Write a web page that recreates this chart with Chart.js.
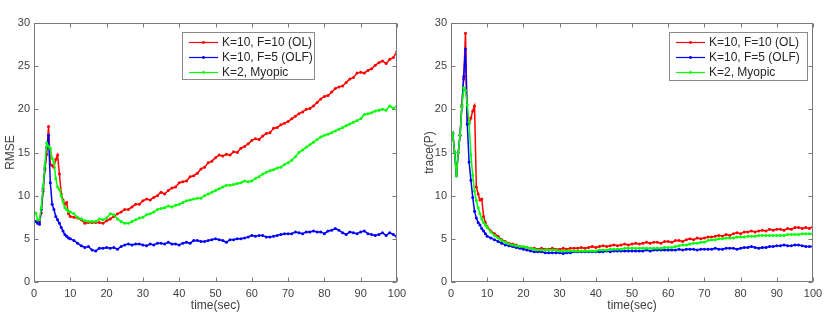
<!DOCTYPE html>
<html><head><meta charset="utf-8">
<script src="https://cdn.jsdelivr.net/npm/chart.js@4.4.0/dist/chart.umd.min.js"></script>
<style>
html,body{margin:0;padding:0;background:#fff;}
#wrap{position:relative;width:831px;height:317px;background:#fff;}
#c1{position:absolute;left:0;top:0;}
#c2{position:absolute;left:420px;top:0;}
</style></head><body>
<div id="wrap"><canvas id="c1" width="420" height="317"></canvas><canvas id="c2" width="411" height="317"></canvas></div>
<script>
// ---------- DATA ----------
const seriesLabels = ['K=10, F=10 (OL)', 'K=10, F=5 (OLF)', 'K=2, Myopic'];
const xTickValues = [0,10,20,30,40,50,60,70,80,90,100];
const yTickValues = [0,5,10,15,20,25,30];
const xTitle = 'time(sec)';
const leftYTitle = 'RMSE';
const rightYTitle = 'trace(P)';

const times = [0,0.5,1,1.5,2,2.5,3,3.5,4,4.5,5,5.5,6,6.5,7,7.5,8,8.5,9,9.5,10,
 11,12,13,14,15,16,17,18,19,20,21,22,23,24,25,26,27,28,29,30,
 31,32,33,34,35,36,37,38,39,40,41,42,43,44,45,46,47,48,49,50,
 51,52,53,54,55,56,57,58,59,60,61,62,63,64,65,66,67,68,69,70,
 71,72,73,74,75,76,77,78,79,80,81,82,83,84,85,86,87,88,89,90,
 91,92,93,94,95,96,97,98,99,100];

const rmseOL = [7.0,7.0,7.0,6.9,8.0,10.5,13.0,14.8,18.0,13.6,13.5,13.3,14.2,14.7,12.5,10.2,9.5,9.0,9.2,7.9,7.6,
 7.5,7.4,7.2,6.8,6.9,6.9,6.9,6.9,6.8,7.1,
 7.3,7.6,7.9,8.1,8.4,8.4,8.7,9.0,9.0,9.4,
 9.6,9.5,9.8,10.0,10.4,10.2,10.6,10.9,11.0,11.5,
 11.6,11.7,12.2,12.3,12.6,13.1,13.3,13.8,14.0,14.4,
 14.7,14.6,14.8,14.7,15.1,15.0,15.5,15.7,16.0,16.4,
 16.6,16.5,16.9,17.2,17.3,17.8,17.9,18.2,18.4,18.6,
 18.9,19.2,19.5,19.7,20.0,20.1,20.4,20.8,21.2,21.5,
 21.6,22.0,22.4,22.6,22.7,23.1,23.5,23.7,24.2,24.3,
 24.2,24.5,24.7,25.1,25.4,25.6,25.3,25.8,26.0,26.7];

const rmseOLF = [7.0,7.0,6.8,6.7,8.4,10.8,13.2,15.6,17.0,11.5,9.0,8.4,7.6,7.2,6.8,6.3,5.9,5.5,5.3,5.1,5.0,
 4.8,4.5,4.2,4.0,4.1,3.7,3.6,3.9,3.9,4.0,
 3.9,4.0,3.8,4.1,4.3,4.4,4.3,4.4,4.4,4.3,
 4.2,4.4,4.3,4.5,4.5,4.4,4.6,4.4,4.4,4.3,
 4.5,4.6,4.5,4.8,4.8,4.7,4.7,4.8,4.9,5.0,
 4.9,4.8,4.6,4.9,4.9,5.0,5.0,5.1,5.2,5.4,
 5.3,5.4,5.4,5.2,5.2,5.3,5.4,5.5,5.6,5.6,
 5.6,5.8,5.7,5.6,5.8,5.8,5.9,5.8,5.8,5.6,
 5.9,6.0,6.2,6.0,5.7,5.5,5.8,5.7,5.6,5.8,
 5.9,5.6,5.5,5.4,5.5,5.7,5.4,5.7,5.5,5.2];

const rmseMyopic = [7.9,8.0,7.2,7.2,8.6,11.0,13.5,16.1,15.7,15.5,14.3,13.8,12.0,11.0,10.7,10.0,9.3,8.6,8.4,8.2,8.1,
 7.9,7.5,7.3,7.1,7.0,7.0,7.0,7.3,7.2,7.4,
 7.9,7.8,7.3,7.0,6.8,6.8,7.0,7.2,7.4,7.5,
 7.8,7.9,8.1,8.4,8.5,8.6,8.8,8.7,8.9,9.0,
 9.2,9.4,9.5,9.6,9.7,9.7,10.0,10.2,10.4,10.6,
 10.8,11.0,11.2,11.2,11.3,11.4,11.5,11.7,11.6,11.7,
 12.0,12.2,12.5,12.7,12.9,13.0,13.2,13.3,13.6,13.8,
 14.1,14.5,15.0,15.3,15.6,15.9,16.2,16.5,16.8,17.0,
 17.1,17.3,17.5,17.7,17.9,18.1,18.3,18.5,18.7,18.9,
 19.4,19.5,19.6,19.8,19.9,20.0,19.9,20.4,20.1,20.4];

const traceOL = [16.7,17.2,15.0,12.3,15.0,17.0,20.5,23.5,28.8,18.3,18.4,19.0,19.8,20.4,11.0,10.2,9.5,9.6,7.6,6.9,6.4,
 5.9,5.6,5.3,4.9,4.7,4.5,4.4,4.3,4.1,4.0,
 4.0,3.9,3.9,3.8,3.9,3.8,3.8,3.9,3.8,3.8,
 3.9,3.8,3.9,3.9,3.9,4.0,3.9,4.0,4.1,4.0,
 4.1,4.2,4.1,4.2,4.3,4.2,4.3,4.4,4.3,4.4,
 4.5,4.4,4.5,4.6,4.5,4.6,4.6,4.5,4.7,4.7,
 4.6,4.8,4.8,4.7,4.9,5.0,4.9,5.1,5.0,5.1,
 5.2,5.2,5.3,5.4,5.3,5.5,5.4,5.6,5.7,5.6,
 5.8,5.8,5.9,5.8,5.9,6.0,5.9,6.1,6.0,6.1,
 6.1,6.0,6.2,6.1,6.3,6.3,6.2,6.3,6.2,6.4];

const traceOLF = [16.7,17.2,15.0,12.3,15.0,17.0,20.3,23.8,27.0,18.3,13.9,11.8,9.8,8.2,7.4,6.9,6.6,6.2,5.9,5.6,5.3,
 5.1,4.9,4.7,4.5,4.3,4.2,4.1,4.0,3.9,3.8,
 3.7,3.6,3.5,3.5,3.5,3.4,3.4,3.4,3.4,3.4,
 3.3,3.4,3.4,3.5,3.5,3.5,3.5,3.5,3.5,3.5,
 3.5,3.5,3.6,3.5,3.6,3.6,3.6,3.6,3.6,3.6,
 3.6,3.6,3.6,3.7,3.6,3.7,3.7,3.7,3.7,3.7,
 3.7,3.7,3.8,3.7,3.8,3.8,3.8,3.7,3.8,3.8,
 3.8,3.8,3.9,3.8,3.8,3.9,3.9,3.9,3.8,3.9,
 4.0,4.0,4.1,4.0,3.9,4.0,4.0,4.1,4.1,4.2,
 4.2,4.3,4.2,4.2,4.3,4.3,4.2,4.1,4.1,4.1];

const traceMyopic = [16.7,17.2,15.0,12.3,15.0,17.0,20.3,22.5,22.2,20.5,18.5,14.7,12.4,10.5,9.4,8.6,7.9,7.3,6.9,6.6,6.3,
 5.8,5.4,5.1,4.8,4.6,4.4,4.3,4.2,4.1,4.1,
 4.0,3.9,3.8,3.7,3.7,3.7,3.7,3.7,3.7,3.6,
 3.6,3.6,3.6,3.6,3.6,3.6,3.6,3.6,3.6,3.6,
 3.7,3.7,3.7,3.8,3.8,3.8,3.8,3.9,3.9,3.9,
 3.9,3.9,3.9,3.9,3.9,3.9,3.9,3.9,4.0,4.0,
 4.0,4.1,4.2,4.3,4.3,4.4,4.5,4.5,4.6,4.6,
 4.8,4.9,4.9,5.0,5.0,5.1,5.1,5.1,5.2,5.2,
 5.2,5.3,5.3,5.3,5.4,5.4,5.4,5.4,5.4,5.4,
 5.4,5.4,5.5,5.5,5.5,5.5,5.6,5.6,5.6,5.6];

// ---------- STYLE ----------
const COLORS = ['#ff0000', '#0000ff', '#00ff00'];
const FONT = "'Liberation Sans', Arial, Helvetica, sans-serif";
const AXIS_COLOR = '#7a7a7a';
const TEXT_COLOR = '#404040';

function pts(vals){ return times.map((t,i)=>({x:t, y:vals[i]})); }

function makeDatasets(arrs){
  return arrs.map((a,i)=>({
    label: seriesLabels[i],
    data: pts(a),
    borderColor: COLORS[i],
    backgroundColor: COLORS[i],
    borderWidth: 1.5,
    pointRadius: 1.5,
    pointBorderWidth: 0,
    pointBackgroundColor: COLORS[i],
    tension: 0,
    order: 3 - i
  }));
}

const boxPlugin = {
  id: 'matlabBox',
  afterDraw(chart){
    const {ctx, chartArea:a, scales:{x, y}} = chart;
    const L = Math.round(a.left)+0.5, R = Math.round(a.right)-0.5;
    const T = Math.round(a.top)+0.5, B = Math.round(a.bottom)-0.5;
    ctx.save();
    ctx.strokeStyle = AXIS_COLOR; ctx.lineWidth = 1;
    ctx.strokeRect(L, T, R-L, B-T);
    const tl = 4;
    ctx.beginPath();
    xTickValues.forEach(v=>{
      const px = Math.round(x.getPixelForValue(v))+0.5;
      ctx.moveTo(px, B); ctx.lineTo(px, B-tl);
      ctx.moveTo(px, T); ctx.lineTo(px, T+tl);
    });
    yTickValues.forEach(v=>{
      const py = Math.round(y.getPixelForValue(v))+0.5;
      ctx.moveTo(L, py); ctx.lineTo(L+tl, py);
      ctx.moveTo(R, py); ctx.lineTo(R-tl, py);
    });
    ctx.stroke();

    // legend
    const lb = chart.options.plugins.matlabBox.legend;
    ctx.fillStyle = '#ffffff';
    ctx.fillRect(lb.x, lb.y, lb.w, lb.h);
    ctx.strokeStyle = '#8a8a8a';
    ctx.strokeRect(lb.x+0.5, lb.y+0.5, lb.w-1, lb.h-1);
    ctx.font = '12px ' + FONT;
    ctx.textBaseline = 'middle';
    ctx.textAlign = 'left';
    chart.data.datasets.forEach((ds,i)=>{
      const yy = lb.y + 10 + i*15 + 0.5;
      ctx.strokeStyle = ds.borderColor; ctx.lineWidth = 1.2;
      ctx.beginPath(); ctx.moveTo(lb.x+7, yy); ctx.lineTo(lb.x+36, yy); ctx.stroke();
      ctx.fillStyle = ds.borderColor;
      ctx.beginPath(); ctx.arc(lb.x+21.5, yy, 1.4, 0, Math.PI*2); ctx.fill();
      ctx.fillStyle = '#262626';
      ctx.fillText(ds.label, lb.x+40, yy+0.5);
    });
    ctx.restore();
  }
};

function makeChart(id, arrs, yTitle, yWidth, padRight, yTitlePad, legend){
  return new Chart(document.getElementById(id), {
    type: 'line',
    data: { datasets: makeDatasets(arrs) },
    plugins: [boxPlugin],
    options: {
      responsive: false,
      animation: false,
      events: [],
      layout: { padding: { top: 23, right: padRight, left: 0, bottom: 0 } },
      plugins: { legend: { display: false }, tooltip: { enabled: false }, matlabBox: { legend } },
      scales: {
        x: {
          type: 'linear', min: 0, max: 100,
          afterBuildTicks(s){ s.ticks = xTickValues.map(v=>({value:v})); },
          afterFit(s){ s.height = 35; },
          grid: { display: false, drawTicks: false },
          border: { display: false },
          ticks: { padding: 5, color: TEXT_COLOR, font: { family: FONT, size: 11 }, maxRotation: 0, autoSkip: false },
          title: { display: true, text: xTitle, color: TEXT_COLOR, font: { family: FONT, size: 12 }, padding: { top: 0, bottom: 4 } }
        },
        y: {
          type: 'linear', min: 0, max: 30,
          afterBuildTicks(s){ s.ticks = yTickValues.map(v=>({value:v})); },
          afterFit(s){ s.width = yWidth; },
          grid: { display: false, drawTicks: false },
          border: { display: false },
          ticks: { padding: 4, color: TEXT_COLOR, font: { family: FONT, size: 11 }, autoSkip: false },
          title: { display: true, text: yTitle, color: TEXT_COLOR, font: { family: FONT, size: 12 }, padding: { top: yTitlePad, bottom: 0 } }
        }
      }
    }
  });
}

makeChart('c1', [rmseOL, rmseOLF, rmseMyopic], leftYTitle, 34, 23, 3, {x:182, y:32, w:133, h:48});
makeChart('c2', [traceOL, traceOLF, traceMyopic], rightYTitle, 31, 18, 2, {x:249, y:32, w:139, h:49});
</script>
</body></html>
